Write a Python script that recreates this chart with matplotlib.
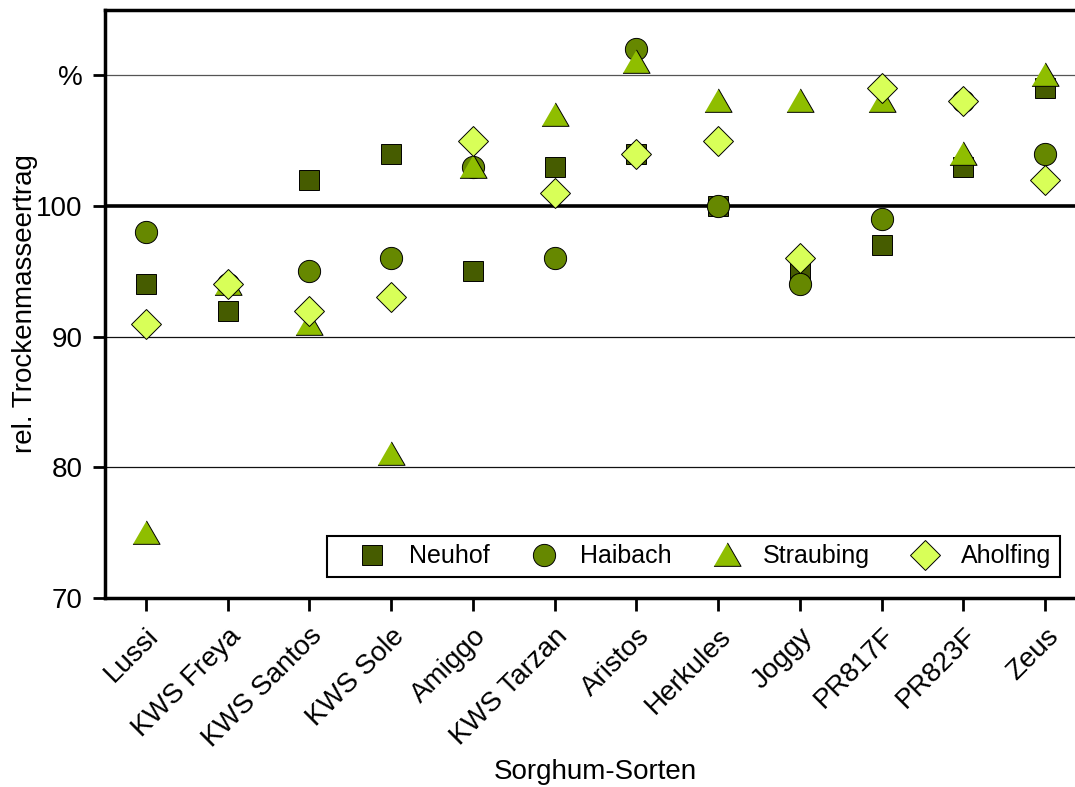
import matplotlib.pyplot as plt
import numpy as np

plt.rcParams['font.family'] = ['Liberation Sans', 'DejaVu Sans']

sorten = ["Lussi", "KWS Freya", "KWS Santos", "KWS Sole", "Amiggo", "KWS Tarzan",
          "Aristos", "Herkules", "Joggy", "PR817F", "PR823F", "Zeus"]
neuhof = [94, 92, 102, 104, 95, 103, 104, 100, 95, 97, 103, 109]
haibach = [98, 94, 95, 96, 103, 96, 112, 100, 94, 99, 108, 104]
straubing = [75, 94, 91, 81, 103, 107, 111, 108, 108, 108, 104, 110]
aholfing = [91, 94, 92, 93, 105, 101, 104, 105, 96, 109, 108, 102]

y_ticks = [70, 80, 90, 100, 110]
y_labels = ["70", "80", "90", "100", "%"]

fig = plt.figure(figsize=(10.75, 7.87), dpi=100)
ax = fig.add_axes([105 / 1075, 1 - 598 / 787, 981 / 1075, 588 / 787])

x = np.arange(len(sorten))

ax.axhline(80, color="#111111", lw=0.9, zorder=1)
ax.axhline(90, color="#111111", lw=0.9, zorder=1)
ax.axhline(110, color="#555555", lw=0.9, zorder=1)
ax.axhline(100, color="black", lw=2.6, zorder=1)

# equilateral triangle, wider than high
tri = [(-1, -0.8), (1, -0.8), (0, 0.93)]

series = [
    ("Neuhof", neuhof, "s", "#465c00", 14.5),
    ("Haibach", haibach, "o", "#668800", 16),
    ("Straubing", straubing, tri, "#8fbe00", 19.5),
    ("Aholfing", aholfing, "D", "#d8ff58", 15),
]
for name, vals, mk, col, ms in series:
    ax.plot(x, vals, linestyle="none", marker=mk, markersize=ms,
            markerfacecolor=col, markeredgecolor="black", markeredgewidth=0.7,
            label=name, zorder=3)

ax.set_xlim(-0.5, 11.5)
ax.set_ylim(70, 115)
ax.set_yticks(y_ticks)
ax.set_yticklabels(y_labels, fontsize=20)
ax.set_xticks(x)
ax.set_xticklabels(sorten, rotation=45, ha="right", va="top", rotation_mode="anchor", fontsize=20)
ax.tick_params(axis="both", direction="out", length=9, width=2)
ax.tick_params(axis="x", pad=9)
ax.tick_params(axis="y", pad=7)

for s in ["left", "bottom", "top"]:
    ax.spines[s].set_linewidth(2.5)
ax.spines["right"].set_visible(False)

ax.set_xlabel("Sorghum-Sorten", fontsize=20, labelpad=5)
ax.set_ylabel("rel. Trockenmasseertrag", fontsize=20, labelpad=-1)

leg = ax.legend(ncol=4, loc="lower right", bbox_to_anchor=(955 / 981, 21 / 588),
                fontsize=18, fancybox=False, framealpha=1, edgecolor="black",
                handlelength=2.9, handletextpad=0.0, columnspacing=0.74,
                borderpad=0.35, borderaxespad=0)
leg.get_frame().set_linewidth(1.5)

fig.savefig("out.png", dpi=100)
